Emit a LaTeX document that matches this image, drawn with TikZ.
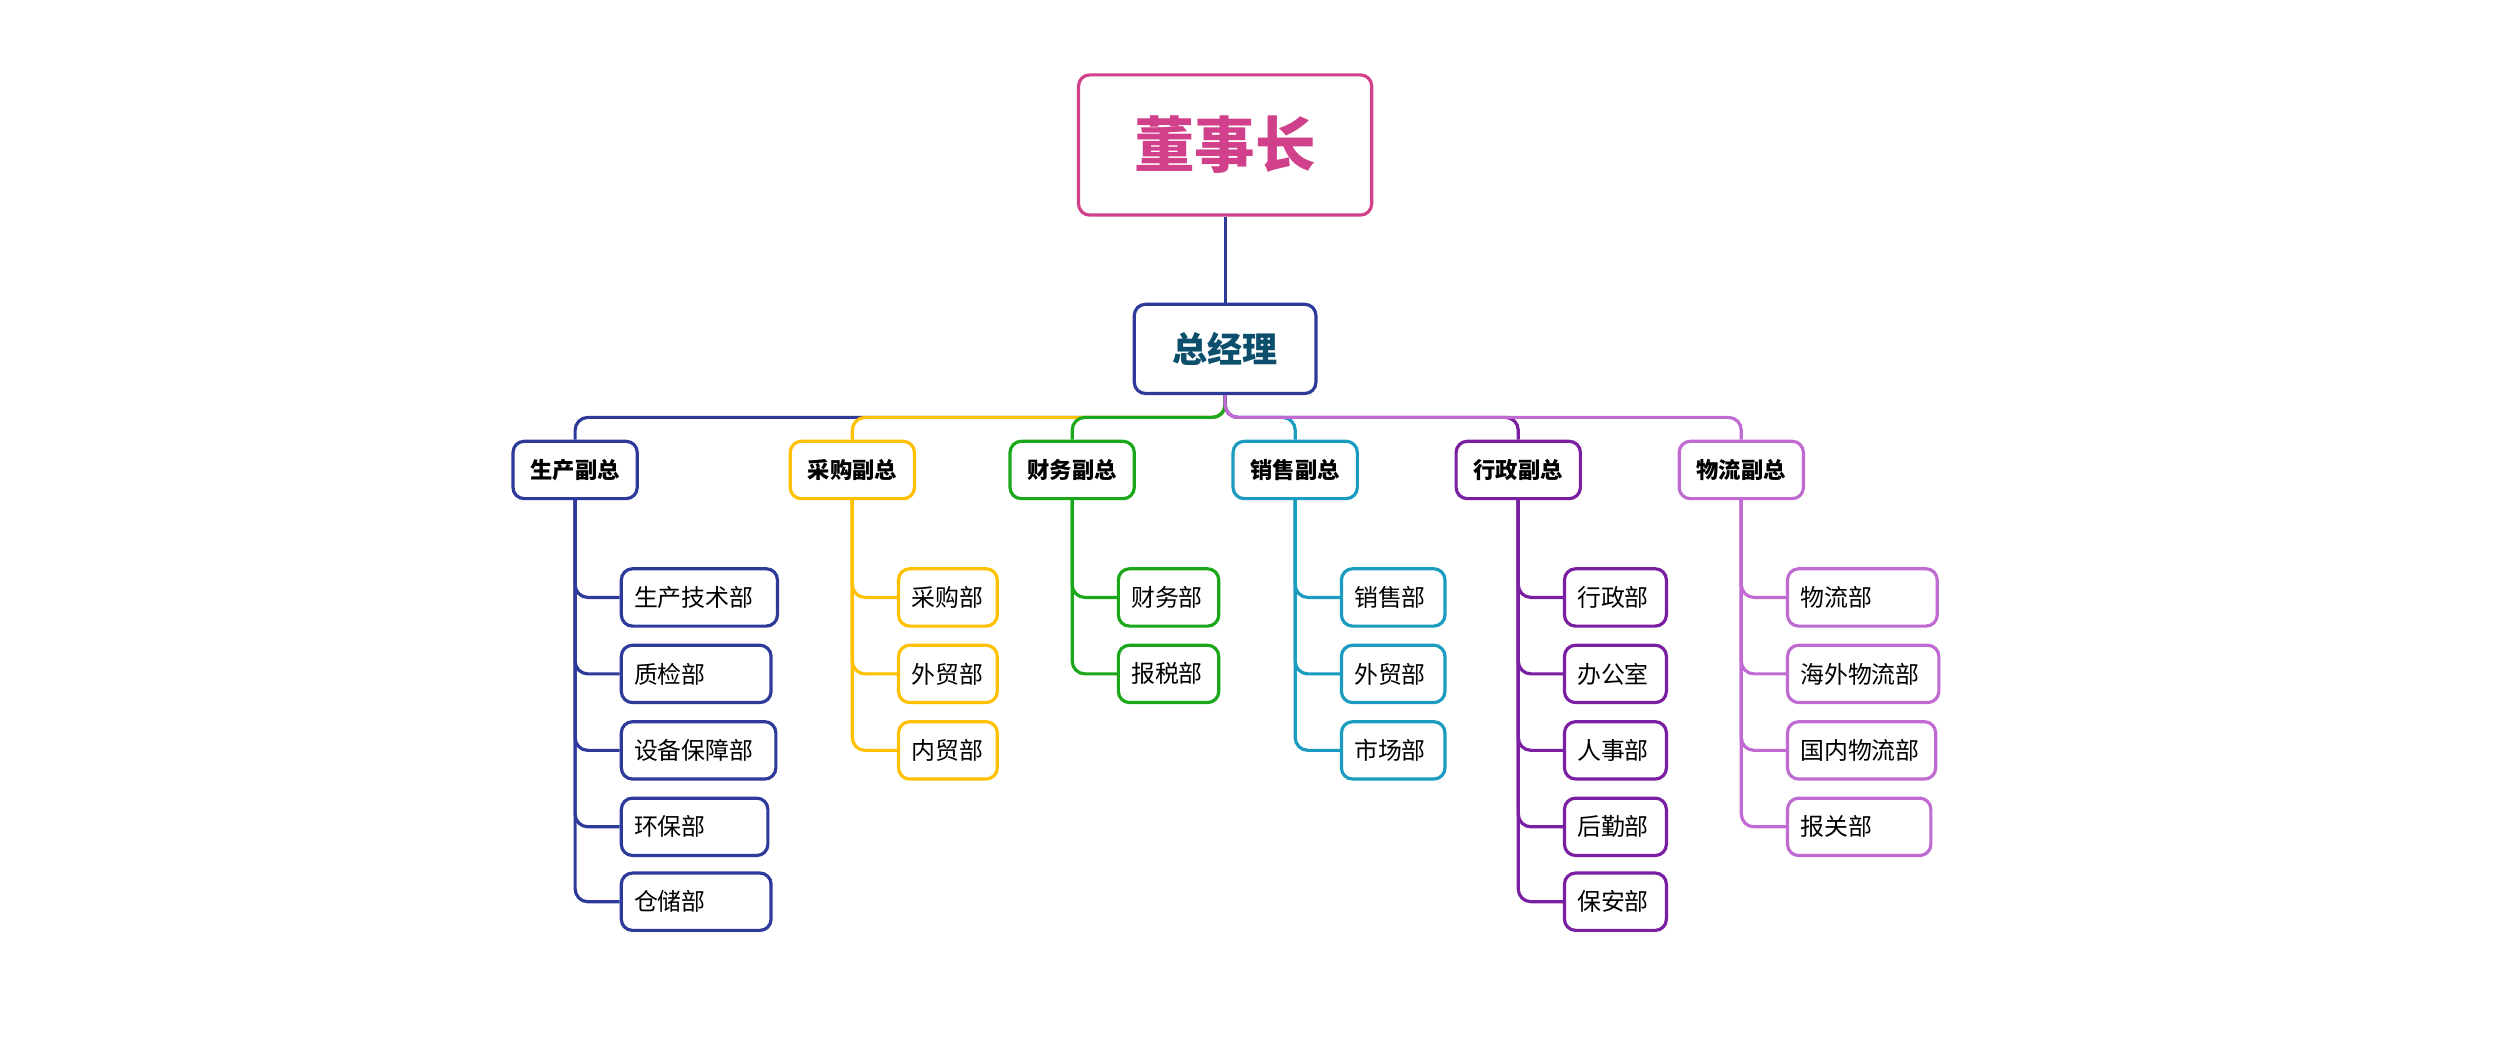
\documentclass[tikz,border=0pt]{standalone}
\usepackage{fontspec}
\setmainfont{Noto Sans CJK SC}
\begin{document}
\begin{tikzpicture}[x=1pt,y=-1pt,
  box/.style={draw,line width=2pt,rounded corners=7pt,fill=white,inner sep=0pt},
  head/.style={box,minimum width=78pt,minimum height=36pt,font=\fontsize{14}{16}\selectfont\bfseries},
  kid/.style={box,anchor=west,minimum height=36pt,align=left,inner xsep=8pt,font=\fontsize{15}{17}\selectfont},
  link/.style={line width=2pt,rounded corners=8pt}]
\definecolor{cBlue}{HTML}{2E3A9A}
\definecolor{cYel}{HTML}{FFC000}
\definecolor{cGrn}{HTML}{1AA81A}
\definecolor{cCyan}{HTML}{1A9BBF}
\definecolor{cDPur}{HTML}{7A1FA2}
\definecolor{cLPur}{HTML}{BF6BD1}
\definecolor{cMag}{HTML}{D1408A}
\definecolor{cTeal}{HTML}{0B4F6C}
\useasboundingbox (0,0) rectangle (1568,662);
\node[box,draw=cMag,text=cMag,minimum width=184pt,minimum height=88pt,font=\fontsize{38}{42}\selectfont\bfseries] (ceo) at (769,91) {董事长};
\node[box,draw=cBlue,text=cTeal,minimum width=114pt,minimum height=56pt,font=\fontsize{22}{26}\selectfont\bfseries] (gm) at (769,219) {总经理};
\draw[cBlue,line width=2pt] (ceo.south) -- (gm.north);
\coordinate (bus) at (769,262);
% heads
\node[head,draw=cBlue] (h1) at (361,295) {生产副总};
\node[head,draw=cYel] (h2) at (535,295) {采购副总};
\node[head,draw=cGrn] (h3) at (673,295) {财务副总};
\node[head,draw=cCyan] (h4) at (813,295) {销售副总};
\node[head,draw=cDPur] (h5) at (953,295) {行政副总};
\node[head,draw=cLPur] (h6) at (1093,295) {物流副总};
\draw[link,cBlue] (gm.south) -- (bus) -| (h1.north);
\draw[link,cYel] (gm.south) -- (bus) -| (h2.north);
\draw[link,cGrn] (gm.south) -- (bus) -| (h3.north);
\draw[link,cCyan] (gm.south) -- (bus) -| (h4.north);
\draw[link,cDPur] (gm.south) -- (bus) -| (h5.north);
\draw[link,cLPur] (gm.south) -- (bus) -| (h6.north);
% children
\foreach \name/\txt/\w/\y in {a1/生产技术部/98/375,a2/质检部/94/423,a3/设备保障部/97/471,a4/环保部/92/519,a5/仓储部/94/566}
  {\node[kid,draw=cBlue,text width=\w pt-16pt] (\name) at (389,\y) {\txt};
   \draw[link,cBlue] (h1.south) |- (\name.west);}
\foreach \name/\txt/\y in {b1/采购部/375,b2/外贸部/423,b3/内贸部/471}
  {\node[kid,draw=cYel,text width=46pt] (\name) at (563,\y) {\txt};
   \draw[link,cYel] (h2.south) |- (\name.west);}
\foreach \name/\txt/\y in {c1/财务部/375,c2/报税部/423}
  {\node[kid,draw=cGrn,text width=47pt] (\name) at (701,\y) {\txt};
   \draw[link,cGrn] (h3.south) |- (\name.west);}
\foreach \name/\txt/\y in {d1/销售部/375,d2/外贸部/423,d3/市场部/471}
  {\node[kid,draw=cCyan,text width=49pt] (\name) at (841,\y) {\txt};
   \draw[link,cCyan] (h4.south) |- (\name.west);}
\foreach \name/\txt/\y in {e1/行政部/375,e2/办公室/423,e3/人事部/471,e4/后勤部/519,e5/保安部/566}
  {\node[kid,draw=cDPur,text width=48pt] (\name) at (981,\y) {\txt};
   \draw[link,cDPur] (h5.south) |- (\name.west);}
\foreach \name/\txt/\w/\y in {f1/物流部/94/375,f2/海外物流部/95/423,f3/国内物流部/93/471,f4/报关部/90/519}
  {\node[kid,draw=cLPur,text width=\w pt-16pt] (\name) at (1121,\y) {\txt};
   \draw[link,cLPur] (h6.south) |- (\name.west);}
\end{tikzpicture}
\end{document}
